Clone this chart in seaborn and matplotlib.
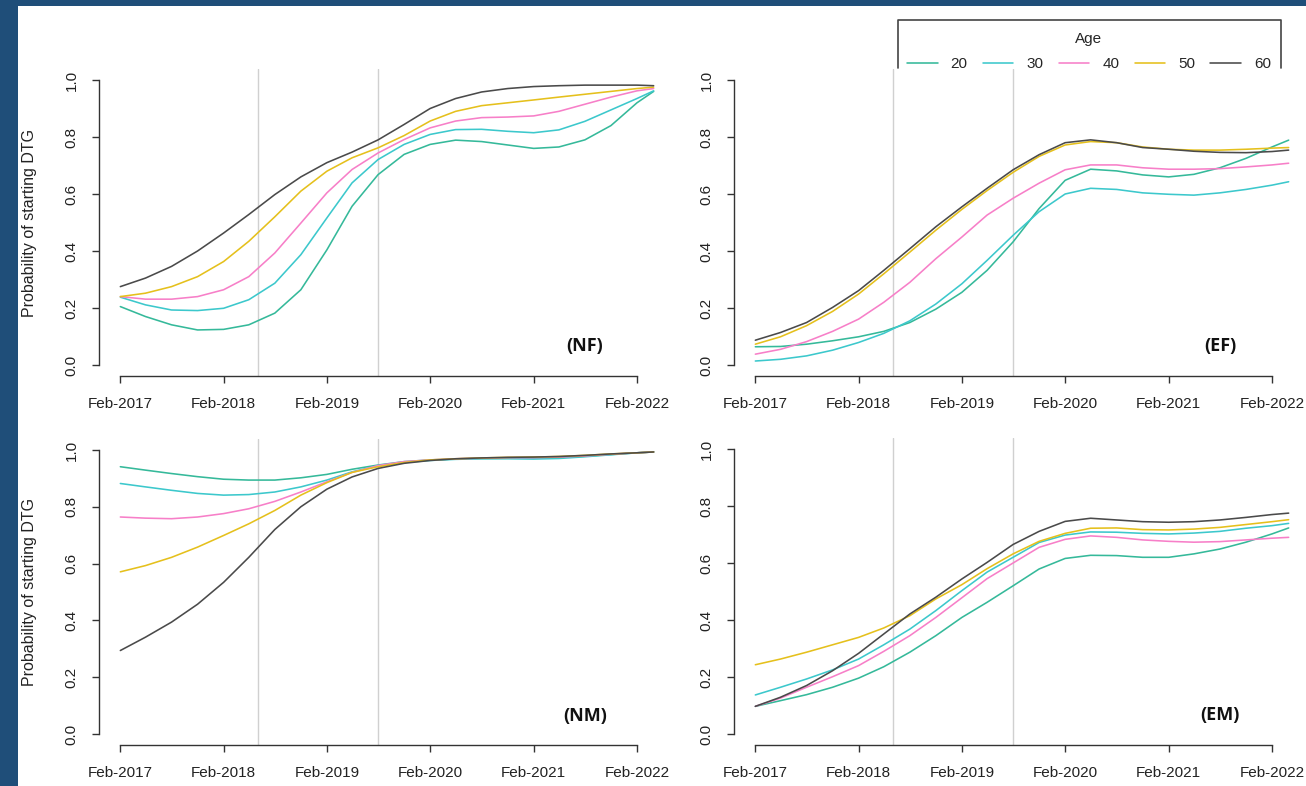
import pandas as pd
import numpy as np
import matplotlib.pyplot as plt
import matplotlib.dates as mdates
from matplotlib.lines import Line2D
from matplotlib.patches import Rectangle
import seaborn as sns

# Dados (probabilidade de iniciar DTG por idade, trimestral)
meses = ['2017-02-01', '2017-05-01', '2017-08-01', '2017-11-01', '2018-02-01', '2018-05-01',
         '2018-08-01', '2018-11-01', '2019-02-01', '2019-05-01', '2019-08-01', '2019-11-01',
         '2020-02-01', '2020-05-01', '2020-08-01', '2020-11-01', '2021-02-01', '2021-05-01',
         '2021-08-01', '2021-11-01', '2022-02-01', '2022-04-01']

idades = [20, 30, 40, 50, 60]
cores = ['#35b99a', '#3cc8cc', '#f77fc8', '#e5c01c', '#4a4a4a']

ticks_x = ['2017-02-01', '2018-02-01', '2019-02-01', '2020-02-01', '2021-02-01', '2022-02-01']
ticks_y = [0.0, 0.2, 0.4, 0.6, 0.8, 1.0]
marcos = ['2018-06-01', '2019-08-01']

nf = {
    20: [.205, .17, .141, .123, .125, .141, .182, .264, .404, .557, .668, .739, .774, .789, .784, .772, .76, .765, .79, .84, .92, .96],
    30: [.238, .211, .193, .191, .199, .229, .287, .387, .516, .639, .721, .774, .809, .826, .827, .82, .815, .825, .855, .895, .935, .962],
    40: [.24, .231, .231, .24, .264, .31, .393, .498, .604, .686, .744, .791, .832, .856, .868, .87, .874, .89, .915, .94, .962, .97],
    50: [.24, .252, .275, .31, .363, .434, .52, .61, .68, .727, .762, .805, .856, .89, .91, .92, .93, .94, .95, .96, .97, .975],
    60: [.275, .305, .346, .40, .463, .528, .598, .66, .71, .747, .79, .844, .90, .935, .958, .97, .977, .98, .982, .982, .982, .98],
}

ef = {
    20: [.064, .065, .073, .085, .099, .118, .149, .196, .255, .332, .432, .549, .648, .687, .681, .667, .66, .669, .692, .725, .765, .789],
    30: [.014, .02, .032, .052, .079, .111, .155, .214, .285, .367, .455, .538, .60, .62, .616, .604, .599, .596, .604, .616, .631, .643],
    40: [.038, .055, .082, .118, .161, .22, .29, .373, .449, .526, .585, .638, .685, .702, .702, .692, .687, .687, .689, .695, .702, .708],
    50: [.073, .099, .138, .188, .249, .32, .396, .473, .546, .612, .676, .732, .772, .784, .78, .765, .757, .754, .754, .757, .761, .763],
    60: [.087, .114, .149, .202, .261, .332, .408, .485, .555, .62, .685, .738, .78, .79, .78, .763, .757, .75, .746, .745, .749, .754],
}

nm = {
    20: [.941, .929, .917, .906, .897, .894, .894, .902, .914, .932, .947, .959, .965, .968, .970, .971, .971, .973, .978, .984, .99, .993],
    30: [.882, .87, .858, .847, .841, .843, .852, .87, .894, .923, .945, .956, .963, .967, .969, .969, .968, .970, .976, .983, .99, .993],
    40: [.764, .76, .758, .764, .776, .793, .819, .852, .888, .921, .945, .959, .965, .969, .971, .973, .973, .975, .979, .985, .99, .993],
    50: [.571, .593, .622, .658, .699, .74, .787, .841, .885, .921, .941, .956, .965, .969, .972, .974, .975, .977, .981, .986, .99, .993],
    60: [.294, .341, .394, .457, .534, .622, .72, .80, .862, .905, .935, .953, .963, .969, .972, .974, .975, .977, .981, .986, .99, .993],
}

em = {
    20: [.097, .117, .138, .164, .196, .236, .287, .345, .409, .462, .52, .579, .616, .627, .626, .62, .62, .632, .649, .673, .702, .723],
    30: [.137, .164, .193, .225, .263, .313, .368, .433, .503, .568, .62, .672, .698, .709, .708, .704, .702, .705, .711, .722, .731, .739],
    40: [.097, .126, .164, .201, .24, .29, .345, .409, .478, .545, .60, .655, .683, .695, .69, .681, .676, .673, .675, .681, .687, .69],
    50: [.243, .263, .287, .313, .339, .372, .415, .474, .524, .58, .632, .676, .704, .722, .723, .717, .716, .719, .725, .735, .745, .752],
    60: [.097, .129, .17, .222, .283, .351, .421, .48, .544, .602, .665, .711, .746, .757, .751, .745, .743, .745, .751, .76, .77, .775],
}

sns.set_style('ticks')
plt.rcParams['font.family'] = ['Liberation Sans', 'DejaVu Sans']

W, H = 1306, 786
paleta = dict(zip(idades, cores))


def caixa(l, t, w, h):
    # retângulo em pixels (a partir do topo) -> fração da figura
    return [l / W, 1 - (t + h) / H, w / W, h / H]


def painel(ax, valores, rotulo, com_ylabel):
    df = pd.DataFrame(valores, index=pd.to_datetime(meses))
    df = df.reset_index(names='Data').melt(id_vars='Data', var_name='Age', value_name='Prob')
    df['Age'] = df['Age'].astype(int)

    for m in marcos:
        ax.axvline(pd.Timestamp(m), color='#d0d0d0', lw=1.0, zorder=0)

    sns.lineplot(data=df, x='Data', y='Prob', hue='Age', palette=paleta,
                 linewidth=1.15, ax=ax, legend=False)

    t0, t1 = pd.Timestamp(meses[0]), pd.Timestamp(meses[-1])
    pad = (t1 - t0) * 0.04
    ax.set_xlim(t0 - pad, t1 + pad)
    ax.set_ylim(-0.04, 1.04)
    ax.set_facecolor('none')

    xt = pd.to_datetime(ticks_x)
    ax.set_xticks(xt)
    ax.set_xticklabels([d.strftime('%b-%Y') for d in xt], fontsize=11, color='#222222')
    ax.set_yticks(ticks_y)
    ax.set_yticklabels([f'{v:.1f}' for v in ticks_y], rotation=90, va='center',
                       fontsize=11, color='#222222')

    for lado in ['top', 'right']:
        ax.spines[lado].set_visible(False)
    ax.spines['left'].set_bounds(0, 1)
    ax.spines['bottom'].set_bounds(mdates.date2num(xt[0]), mdates.date2num(xt[-1]))
    for lado in ['left', 'bottom']:
        ax.spines[lado].set_color('#333333')
        ax.spines[lado].set_linewidth(1.0)
    ax.tick_params(axis='both', direction='out', length=5, width=1.0, color='#333333', pad=9.5)

    ax.set_xlabel('')
    if com_ylabel:
        ax.set_ylabel('Probability of starting DTG', fontsize=11.5, color='#222222')
        ax.yaxis.set_label_coords(-0.108, 0.5)
    else:
        ax.set_ylabel('')

    ax.text(pd.Timestamp('2021-08-01'), 0.065, rotulo, ha='center', va='center',
            fontsize=13, fontweight='bold', family=['Open Sans', 'DejaVu Sans'], color='#111111')


fig = plt.figure(figsize=(W / 100, H / 100), dpi=100)
fig.patch.set_facecolor('#1f4e79')
fig.add_artist(Rectangle((18 / W, 0), 1, 1 - 6 / H, transform=fig.transFigure,
                         facecolor='white', edgecolor='none', zorder=-1))

ax1 = fig.add_axes(caixa(99, 68.6, 576, 307.8))
ax2 = fig.add_axes(caixa(734, 68.6, 576, 307.8))
ax3 = fig.add_axes(caixa(99, 438.6, 576, 306.8))
ax4 = fig.add_axes(caixa(734, 437.6, 576, 307.8))

painel(ax1, nf, '(NF)', True)
painel(ax2, ef, '(EF)', False)
painel(ax3, nm, '(NM)', True)
painel(ax4, em, '(EM)', False)

# Legenda no topo à direita (caixa aberta embaixo)
handles = [Line2D([], [], color=c, lw=1.15) for c in cores]
fig.legend(handles, [str(a) for a in idades], title='Age', ncol=5, loc='upper center',
           bbox_to_anchor=(1089 / W, 1 - 24 / H), frameon=False, fontsize=11,
           title_fontsize=11, handlelength=2.0, handletextpad=0.85, columnspacing=1.0,
           borderpad=0, labelspacing=0.75)
fig.add_artist(Line2D([898 / W, 898 / W, 1281 / W, 1281 / W],
                      [1 - 68 / H, 1 - 20 / H, 1 - 20 / H, 1 - 68 / H],
                      transform=fig.transFigure, color='#444444', lw=1.2))

plt.savefig('out.png', dpi=100)
